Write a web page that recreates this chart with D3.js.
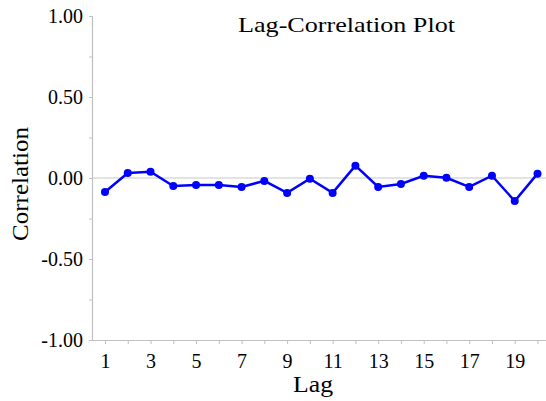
<!DOCTYPE html>
<html>
<head>
<meta charset="utf-8">
<script src="https://cdn.jsdelivr.net/npm/d3@7"></script>
<style>
  body { margin: 0; background: #fff; }
  svg { display: block; font-family: "Times New Roman", "Liberation Serif", "DejaVu Serif", serif; }
  svg text { font-family: "Times New Roman", "Liberation Serif", "DejaVu Serif", serif; }
</style>
</head>
<body>
<script>
const lags = d3.range(1, 21);
const correlations = [
  -0.086, 0.031, 0.039, -0.049, -0.043, -0.043, -0.055, -0.018, -0.092, -0.004,
  -0.092, 0.076, -0.055, -0.037, 0.014, 0.001, -0.055, 0.014, -0.142, 0.027
];
const yMajorTicks = [-1, -0.5, 0, 0.5, 1];
const yMinorTicks = [-0.75, -0.25, 0.25, 0.75];
const xLabelTicks = [1, 3, 5, 7, 9, 11, 13, 15, 17, 19];

const width = 546, height = 401;
const plotLeft = 92, plotRight = 546, plotTop = 16, plotBottom = 340;

const svg = d3.select("body").append("svg")
  .attr("width", width)
  .attr("height", height);

const x = d3.scaleLinear().domain([1, 20]).range([105, 537.5]);
const y = d3.scaleLinear().domain([-1, 1]).range([plotBottom, plotTop]);

// zero reference line
svg.append("line")
  .attr("x1", plotLeft).attr("x2", plotRight)
  .attr("y1", y(0)).attr("y2", y(0))
  .attr("stroke", "#c8c8c8").attr("stroke-width", 1.2);

// y axis, hyphen minus like the original
const fmt = d3.format(".2f");
const yAxis = svg.append("g")
  .attr("transform", `translate(${plotLeft},0)`)
  .call(d3.axisLeft(y).tickValues(yMajorTicks.concat(yMinorTicks))
    .tickSize(3).tickPadding(6)
    .tickFormat(d => yMajorTicks.includes(d) ? fmt(d).replace("\u2212", "-") : ""));

// x axis
const xAxis = svg.append("g")
  .attr("transform", `translate(0,${plotBottom})`)
  .call(d3.axisBottom(x).tickValues(lags)
    .tickSize(4).tickPadding(10)
    .tickFormat(d => xLabelTicks.includes(d) ? d : ""));
xAxis.select(".domain").attr("d", `M${plotLeft},0.5H${plotRight}`);

[yAxis, xAxis].forEach(g => {
  g.attr("font-family", null).attr("font-size", null);
  g.select(".domain").attr("stroke", "#c0c0c0").attr("stroke-width", 1.2);
  g.selectAll(".tick line").attr("stroke", "#c0c0c0");
  g.selectAll(".tick text")
    .attr("fill", "#000")
    .style("font-size", "20px");
});

// series
const data = lags.map((l, i) => ({ lag: l, r: correlations[i] }));

svg.append("path")
  .datum(data)
  .attr("fill", "none")
  .attr("stroke", "#0000ff")
  .attr("stroke-width", 2.5)
  .attr("d", d3.line().x(d => x(d.lag)).y(d => y(d.r)));

svg.selectAll("circle.pt")
  .data(data)
  .enter()
  .append("circle")
  .attr("class", "pt")
  .attr("cx", d => x(d.lag))
  .attr("cy", d => y(d.r))
  .attr("r", 4)
  .attr("fill", "#0000ff");

// titles (slightly wide lettering in the original)
svg.append("text")
  .attr("x", 238).attr("y", 31.5)
  .style("font-size", "22px")
  .attr("textLength", 217)
  .attr("lengthAdjust", "spacingAndGlyphs")
  .attr("fill", "#000")
  .text("Lag-Correlation Plot");

svg.append("text")
  .attr("x", 293).attr("y", 392)
  .style("font-size", "23px")
  .attr("textLength", 40)
  .attr("lengthAdjust", "spacingAndGlyphs")
  .attr("fill", "#000")
  .text("Lag");

svg.append("text")
  .attr("transform", "translate(28,241) rotate(-90)")
  .style("font-size", "24px")
  .attr("textLength", 114)
  .attr("lengthAdjust", "spacingAndGlyphs")
  .attr("fill", "#000")
  .text("Correlation");
</script>
</body>
</html>
